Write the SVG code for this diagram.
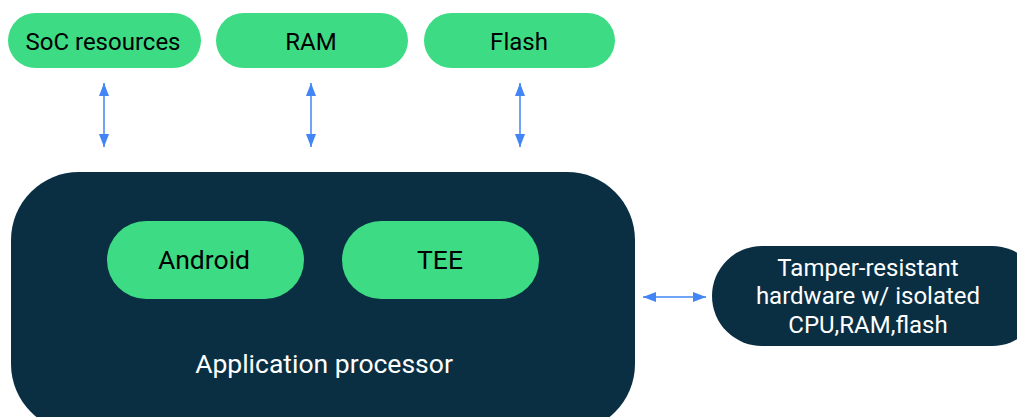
<svg xmlns="http://www.w3.org/2000/svg" width="1017" height="417" viewBox="0 0 1017 417">
<defs>
<marker id="ah" viewBox="0 0 10 10" refX="10" refY="5" markerWidth="13" markerHeight="10" markerUnits="userSpaceOnUse" orient="auto-start-reverse" preserveAspectRatio="none">
<path d="M0,0 L10,5 L0,10 z" fill="#4285f4"/>
</marker>
<style>
.g{fill:#3ddc84}
.d{fill:#0a2f43}
.t{font-family:Roboto,"Liberation Sans",sans-serif;font-size:24px;text-anchor:middle}
.l{font-size:26.5px}
.b{fill:#000}
.w{fill:#fff}
.c{stroke:#4285f4;stroke-width:1.5;fill:none}
</style>
</defs>
<rect width="1017" height="417" fill="#fff"/>
<g id="soc"><rect class="g" x="8" y="13" width="193" height="55" rx="27.5"/><text class="t b" x="103" y="50">SoC resources</text></g>
<g id="ram"><rect class="g" x="216" y="13" width="192" height="55" rx="27.5"/><text class="t b" x="311" y="50">RAM</text></g>
<g id="flash"><rect class="g" x="424" y="13" width="191" height="55" rx="27.5"/><text class="t b" x="519" y="50">Flash</text></g>
<g id="ap"><rect class="d" x="11" y="172" width="624" height="260" rx="68"/><text class="t l w" x="324" y="373">Application processor</text></g>
<g id="android"><rect class="g" x="107" y="221" width="197" height="78" rx="39"/><text class="t l b" x="204" y="269">Android</text></g>
<g id="tee"><rect class="g" x="342" y="221" width="197" height="78" rx="39"/><text class="t l b" x="440" y="269">TEE</text></g>
<g id="trh"><rect class="d" x="712" y="246" width="330" height="100" rx="50"/>
<text class="t w" x="868" y="276">Tamper-resistant</text>
<text class="t w" x="868" y="304">hardware w/ isolated</text>
<text class="t w" x="868" y="333">CPU,RAM,flash</text></g>
<g id="connectors">
<line class="c" x1="104" y1="83" x2="104" y2="147" marker-start="url(#ah)" marker-end="url(#ah)"/>
<line class="c" x1="311" y1="83" x2="311" y2="147" marker-start="url(#ah)" marker-end="url(#ah)"/>
<line class="c" x1="520" y1="83" x2="520" y2="147" marker-start="url(#ah)" marker-end="url(#ah)"/>
<line class="c" x1="643" y1="297" x2="706" y2="297" marker-start="url(#ah)" marker-end="url(#ah)"/>
</g>
</svg>
